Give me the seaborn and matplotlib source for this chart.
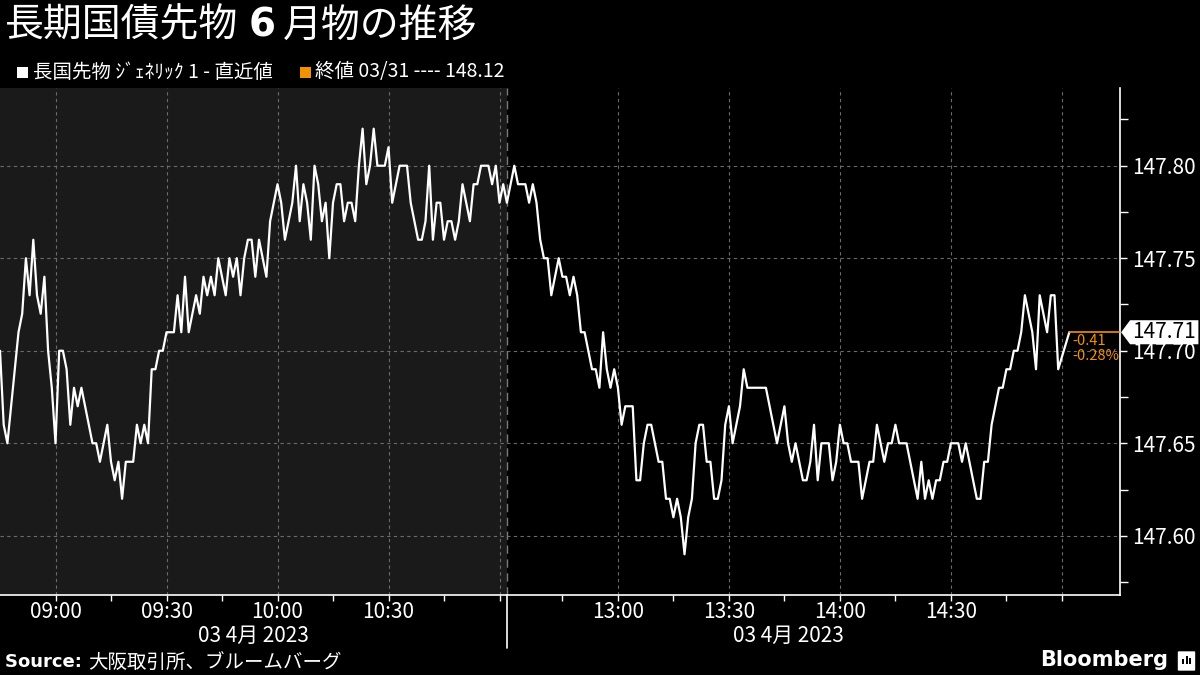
import numpy as np
import pandas as pd
import matplotlib
matplotlib.use('Agg')
import matplotlib.pyplot as plt
import seaborn as sns
from matplotlib.patches import Polygon, Rectangle, FancyBboxPatch

sns.set_theme(style="dark")
plt.rcParams['font.family'] = ['Noto Sans CJK JP', 'DejaVu Sans']

### data
# 前場 08:45 から1分毎
am_prices = [
    147.70, 147.66, 147.65, 147.67, 147.69, 147.71, 147.72, 147.75, 147.73, 147.76,
    147.73, 147.72, 147.74, 147.70, 147.68, 147.65, 147.70, 147.70, 147.69, 147.66,
    147.68, 147.67, 147.68, 147.67, 147.66, 147.65, 147.65, 147.64, 147.65, 147.66,
    147.64, 147.63, 147.64, 147.62, 147.64, 147.64, 147.64, 147.66, 147.65, 147.66,
    147.65, 147.69, 147.69, 147.70, 147.70, 147.71, 147.71, 147.71, 147.73, 147.71,
    147.74, 147.71, 147.72, 147.73, 147.72, 147.74, 147.73, 147.74, 147.73, 147.75,
    147.74, 147.73, 147.75, 147.74, 147.75, 147.73, 147.75, 147.76, 147.76, 147.74,
    147.76, 147.75, 147.74, 147.77, 147.78, 147.79, 147.78, 147.76, 147.77, 147.78,
    147.80, 147.77, 147.79, 147.78, 147.76, 147.80, 147.79, 147.77, 147.78, 147.75,
    147.78, 147.79, 147.79, 147.77, 147.78, 147.78, 147.77, 147.80, 147.82, 147.79,
    147.80, 147.82, 147.80, 147.80, 147.80, 147.81, 147.78, 147.79, 147.80, 147.80,
    147.80, 147.78, 147.77, 147.76, 147.76, 147.77, 147.80, 147.76, 147.78, 147.78,
    147.76, 147.77, 147.77, 147.76, 147.77, 147.79, 147.78, 147.77, 147.79, 147.79,
    147.80, 147.80, 147.80, 147.79, 147.80, 147.78, 147.79,
]
# 後場 12:30 から1分毎 (最後は 15:02 の引け)
pm_prices = [
    147.78, 147.79, 147.80, 147.79, 147.79, 147.79, 147.78, 147.79, 147.78, 147.76,
    147.75, 147.75, 147.73, 147.74, 147.75, 147.74, 147.74, 147.73, 147.74, 147.73,
    147.71, 147.71, 147.70, 147.69, 147.69, 147.68, 147.71, 147.69, 147.68, 147.69,
    147.68, 147.66, 147.67, 147.67, 147.67, 147.63, 147.63, 147.65, 147.66, 147.66,
    147.65, 147.64, 147.64, 147.62, 147.62, 147.61, 147.62, 147.61, 147.59, 147.61,
    147.62, 147.65, 147.66, 147.66, 147.64, 147.64, 147.62, 147.62, 147.63, 147.66,
    147.67, 147.65, 147.66, 147.67, 147.69, 147.68, 147.68, 147.68, 147.68, 147.68,
    147.68, 147.67, 147.66, 147.65, 147.66, 147.67, 147.65, 147.64, 147.65, 147.64,
    147.63, 147.63, 147.64, 147.66, 147.63, 147.65, 147.65, 147.65, 147.63, 147.64,
    147.66, 147.65, 147.65, 147.64, 147.64, 147.64, 147.62, 147.63, 147.64, 147.64,
    147.66, 147.65, 147.64, 147.65, 147.65, 147.66, 147.65, 147.65, 147.65, 147.64,
    147.63, 147.62, 147.64, 147.62, 147.63, 147.62, 147.63, 147.63, 147.64, 147.64,
    147.65, 147.65, 147.65, 147.64, 147.65, 147.64, 147.63, 147.62, 147.62, 147.64,
    147.64, 147.66, 147.67, 147.68, 147.68, 147.69, 147.69, 147.70, 147.70, 147.71,
    147.73, 147.72, 147.71, 147.69, 147.73, 147.72, 147.71, 147.73, 147.73, 147.69,
    147.71,
]
prev_close = 148.12
y_ticks = [147.60, 147.65, 147.70, 147.75, 147.80]
major_times = ['09:00', '09:30', '10:00', '10:30', '11:00', '13:00', '13:30', '14:00', '14:30', '15:00']
major_labels = ['09:00', '09:30', '10:00', '10:30', '', '13:00', '13:30', '14:00', '14:30', '']
minor_times = ['09:15', '09:45', '10:15', '10:45', '12:45', '13:15', '13:45', '14:15', '14:45']
date_label = '03 4月 2023'

day = '2023-04-03 '
am_times = list(pd.date_range(day + '08:45', periods=len(am_prices), freq='min'))
pm_times = list(pd.date_range(day + '12:30', day + '14:59', freq='min')) + [pd.Timestamp(day + '15:02')]

AM_OPEN = pd.Timestamp(day + '08:45')
AM_CLOSE = pd.Timestamp(day + '11:02')
PM_OPEN = pd.Timestamp(day + '12:30')
AM_LEN = (AM_CLOSE - AM_OPEN).total_seconds() / 60


def to_pos(t):
    # 昼休みを詰めた分単位の位置
    t = pd.Timestamp(t)
    if t >= PM_OPEN:
        return AM_LEN + (t - PM_OPEN).total_seconds() / 60
    return (t - AM_OPEN).total_seconds() / 60


df = pd.DataFrame({'time': am_times + pm_times, 'price': am_prices + pm_prices})
df['pos'] = df['time'].apply(to_pos)

orange = '#f39200'
x_max = AM_LEN + 165.7

### figure
fig = plt.figure(figsize=(12, 6.75), dpi=100)
fig.patch.set_facecolor('black')
ax = fig.add_axes([0, 1 - 595 / 675, 1120 / 1200, 507 / 675])
ax.set_facecolor('black')
ax.axvspan(0, AM_LEN, color='#1a1a1a', zorder=0, lw=0)

sns.lineplot(data=df, x='pos', y='price', color='white', linewidth=1.6, ax=ax, zorder=3)

ax.set_xlim(0, x_max)
ax.set_ylim(147.568, 147.842)
ax.set_xlabel('')
ax.set_ylabel('')

# axes
for s in ['top', 'left']:
    ax.spines[s].set_visible(False)
for s in ['right', 'bottom']:
    ax.spines[s].set_color('white')
    ax.spines[s].set_linewidth(1.2)

ax.yaxis.tick_right()
ax.set_yticks(y_ticks)
ax.set_yticklabels(['%.2f' % v for v in y_ticks])
ax.set_yticks([v + 0.025 for v in [147.55] + y_ticks], minor=True)
ax.set_xticks([to_pos(day + t) for t in major_times])
ax.set_xticklabels(major_labels)
ax.set_xticks([to_pos(day + t) for t in minor_times], minor=True)
ax.tick_params(axis='y', which='both', colors='white', labelsize=15, length=5, width=1, pad=4, right=True, left=False)
ax.tick_params(axis='y', which='minor', length=6)
ax.tick_params(axis='x', which='both', colors='white', labelsize=15, length=4, width=1, pad=0, bottom=True)

ax.grid(True, which='major', axis='both', color='#6b6b6b', linestyle=(0, (3, 3)), linewidth=0.8)
ax.set_axisbelow(True)

# session separator
ax.axvline(AM_LEN, color='#7a7a7a', linestyle=(0, (6, 4)), linewidth=1, zorder=1)
xt = ax.get_xaxis_transform()
ax.plot([AM_LEN, AM_LEN], [0, -0.105], transform=xt, color='white', lw=1.2, clip_on=False)
ax.text(AM_LEN / 2, -0.08, date_label, transform=xt, ha='center', va='center', color='white', fontsize=15)
ax.text(AM_LEN + 76, -0.08, date_label, transform=xt, ha='center', va='center', color='white', fontsize=15)

# last value
last = df['price'].iloc[-1]
last_pos = df['pos'].iloc[-1]
chg = last - prev_close
ax.plot([last_pos, x_max], [last, last], color=orange, lw=1.2, zorder=4, clip_on=False)
ax.annotate('%.2f' % chg, (last_pos, last), xytext=(2, -6), textcoords='offset points',
            color=orange, fontsize=10.5, va='center', ha='left')
ax.annotate('%.2f%%' % (chg / prev_close * 100), (last_pos, last), xytext=(2, -17), textcoords='offset points',
            color=orange, fontsize=10.5, va='center', ha='left')
yt = ax.get_yaxis_transform()
h = 0.0065
ax.add_patch(Polygon([(1.001, last), (1.009, last + h), (1.07, last + h), (1.07, last - h), (1.009, last - h)],
                     closed=True, transform=yt, facecolor='white', edgecolor='none', clip_on=False, zorder=10))
ax.text(1.011, last, '%.2f' % last, transform=yt, color='black', fontsize=15, va='center', ha='left', zorder=11)

### texts
renderer = fig.canvas.get_renderer()
W = fig.bbox.width


def put_row(x, y, parts):
    # parts: (text, kwargs); x in figure fraction
    for txt, kw in parts:
        t = fig.text(x, y, txt, color=kw.pop('color', 'white'), va='center', ha='left', **kw)
        bb = t.get_window_extent(renderer)
        x = bb.x1 / W
    return x


x = put_row(0.004, 0.962, [('長期国債先物', dict(fontsize=28))])
x = put_row(x + 11 / 1200, 0.962, [('6', dict(fontsize=28, weight='bold', family=['DejaVu Sans']))])
put_row(x + 7 / 1200, 0.962, [('月物の推移', dict(fontsize=28))])

fig.patches.append(Rectangle((17 / 1200, 1 - 78 / 675), 11 / 1200, 11 / 675, transform=fig.transFigure,
                             facecolor='white', edgecolor='none'))
x = put_row(33 / 1200, 1 - 72 / 675, [('長国先物 ｼﾞｪﾈﾘｯｸ 1 - 直近値', dict(fontsize=14))])
x += 27 / 1200
fig.patches.append(Rectangle((x, 1 - 78 / 675), 11 / 1200, 11 / 675, transform=fig.transFigure,
                             facecolor=orange, edgecolor='none'))
put_row(x + 15 / 1200, 1 - 72 / 675, [('終値 03/31 ---- %.2f' % prev_close, dict(fontsize=14))])

put_row(0.004, 1 - 662 / 675, [('Source: ', dict(fontsize=13, weight='bold', family=['DejaVu Sans'])),
                               ('大阪取引所、ブルームバーグ', dict(fontsize=14))])

fig.text(1168 / 1200, 1 - 660 / 675, 'Bloomberg', color='white', fontsize=15, weight='bold',
         ha='right', va='center', family=['DejaVu Sans'])
fig.patches.append(FancyBboxPatch((1179 / 1200, 1 - 670 / 675), 15 / 1200, 18 / 675,
                                  boxstyle='round,pad=0.001', transform=fig.transFigure,
                                  facecolor='white', edgecolor='none'))
for i, bh in enumerate([5, 8, 6]):
    fig.patches.append(Rectangle(((1182 + 3.5 * i) / 1200, 1 - 664 / 675), 2 / 1200, bh / 675,
                                 transform=fig.transFigure, facecolor='black', edgecolor='none'))

fig.savefig('out.png', dpi=100, facecolor='black')
